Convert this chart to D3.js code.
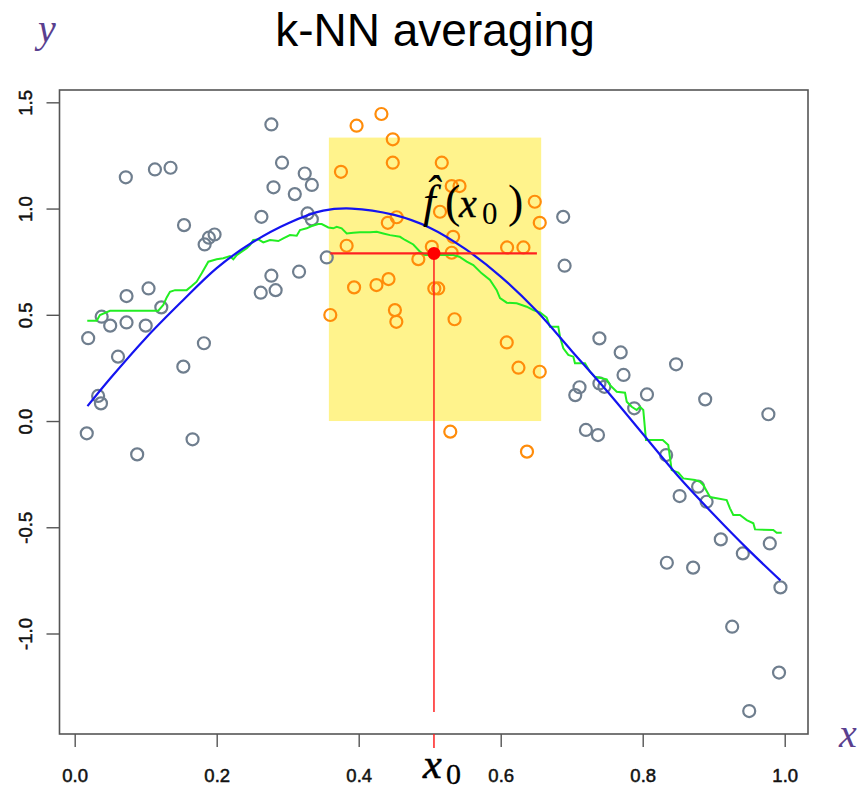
<!DOCTYPE html>
<html>
<head>
<meta charset="utf-8">
<script src="https://cdn.jsdelivr.net/npm/d3@7"></script>
<style>
  html, body { margin: 0; padding: 0; background: #fff; }
  svg { display: block; }
</style>
</head>
<body>
<div id="chart"></div>
<script>
// Data
// grey points = training points outside the neighbourhood of x0
const greyX = [0.072, 0.113, 0.135, 0.154, 0.263, 0.183, 0.189, 0.197, 0.262, 0.073, 0.104, 0.122, 0.038, 0.050, 0.073, 0.100, 0.019, 0.061, 0.182, 0.153, 0.033, 0.037, 0.017, 0.166, 0.088,
    0.277, 0.292, 0.324, 0.334, 0.280, 0.310, 0.328, 0.334, 0.355, 0.316, 0.277, 0.283,
    0.688, 0.690, 0.739, 0.769, 0.773, 0.711, 0.705, 0.739, 0.746, 0.788, 0.720, 0.737, 0.847, 0.806, 0.888, 0.977, 0.833, 0.852, 0.878, 0.890, 0.910, 0.941, 0.979, 0.834, 0.871, 0.994, 0.926, 0.992, 0.950];
const greyY = [1.147, 1.184, 1.192, 0.922, 0.961, 0.831, 0.863, 0.878, 0.604, 0.588, 0.624, 0.535, 0.491, 0.449, 0.464, 0.449, 0.390, 0.303, 0.366, 0.256, 0.118, 0.083, -0.058, -0.086, -0.157,
    1.396, 1.216, 1.165, 1.111, 1.100, 1.068, 0.977, 0.949, 0.770, 0.703, 0.684, 0.616,
    0.961, 0.731, 0.389, 0.323, 0.217, 0.159, 0.122, 0.177, 0.161, 0.060, -0.042, -0.066, 0.267, 0.125, 0.102, 0.032, -0.160, -0.353, -0.309, -0.380, -0.557, -0.623, -0.576, -0.667, -0.690, -0.783, -0.968, -1.184, -1.365];

// orange points = the k nearest neighbours of x0
const orangeX = [0.397, 0.432, 0.448, 0.448, 0.375, 0.517, 0.441, 0.4535, 0.383, 0.484, 0.503, 0.3935, 0.425, 0.442, 0.5065, 0.512, 0.360,
    0.451, 0.453, 0.529, 0.531, 0.542, 0.648, 0.655, 0.5145, 0.533, 0.531, 0.609, 0.632, 0.535, 0.6085, 0.625, 0.655, 0.637];
const orangeY = [1.390, 1.445, 1.326, 1.216, 1.173, 1.216, 0.933, 0.959, 0.825, 0.762, 0.820, 0.629, 0.640, 0.668, 0.624, 0.624, 0.499,
    0.522, 0.467, -0.050, 1.106, 1.106, 1.032, 0.933, 0.985, 0.867, 0.792, 0.817, 0.817, 0.479, 0.370, 0.251, 0.232, -0.144];

// green = k-NN average (traced)
const greenX = [0.0177, 0.031, 0.0356, 0.0497, 0.1177, 0.1248, 0.1296, 0.1342, 0.1413, 0.1577, 0.1648, 0.1718, 0.1789, 0.1882, 0.200, 0.2093, 0.2187, 0.2234, 0.2282, 0.2352,
    0.2423, 0.2469, 0.2515, 0.2586, 0.2656, 0.2751, 0.2868, 0.2938, 0.3032, 0.3127, 0.3173, 0.3268, 0.3338, 0.3431, 0.3479, 0.3572, 0.3642, 0.369, 0.376, 0.3831,
    0.3924, 0.4018, 0.4159, 0.4254, 0.4346, 0.4441, 0.4582, 0.4652, 0.4769, 0.4863, 0.4934, 0.5332, 0.5417, 0.5521, 0.5614, 0.5732, 0.5849, 0.5944, 0.599, 0.6085,
    0.6225, 0.6366, 0.6459, 0.6554, 0.6648, 0.6694, 0.6811, 0.6835, 0.6882, 0.6952, 0.7023, 0.7046, 0.7187, 0.7258, 0.7328, 0.7493, 0.754, 0.7634, 0.7751, 0.7775,
    0.7845, 0.7915, 0.7962, 0.8008, 0.8046, 0.8282, 0.836, 0.8408, 0.8501, 0.8572, 0.8737, 0.8807, 0.8853, 0.8948, 0.9183, 0.9229, 0.9276, 0.937, 0.9465, 0.9558,
    0.9582, 0.9839, 0.9887, 0.9958];
const greenY = [0.472, 0.472, 0.499, 0.519, 0.519, 0.546, 0.582, 0.608, 0.616, 0.616, 0.635, 0.656, 0.695, 0.750, 0.761, 0.766, 0.776, 0.761, 0.781, 0.797,
    0.813, 0.828, 0.852, 0.855, 0.841, 0.852, 0.847, 0.860, 0.875, 0.872, 0.899, 0.907, 0.918, 0.927, 0.927, 0.911, 0.907, 0.914, 0.907, 0.883,
    0.886, 0.889, 0.888, 0.891, 0.883, 0.875, 0.867, 0.852, 0.831, 0.797, 0.781, 0.781, 0.773, 0.750, 0.734, 0.695, 0.664, 0.616, 0.579, 0.557,
    0.554, 0.538, 0.522, 0.511, 0.487, 0.444, 0.444, 0.397, 0.342, 0.311, 0.303, 0.272, 0.272, 0.232, 0.208, 0.196, 0.169, 0.138, 0.133, 0.091,
    0.067, 0.052, 0.067, 0.052, -0.089, -0.089, -0.113, -0.231, -0.243, -0.270, -0.278, -0.286, -0.301, -0.358, -0.372, -0.411, -0.442, -0.442, -0.466, -0.481,
    -0.510, -0.513, -0.526, -0.526];

// blue = true curve (read at a few x positions)
const blueX = [0.018, 0.05, 0.10, 0.15, 0.20, 0.25, 0.30, 0.35, 0.39, 0.45, 0.50, 0.55, 0.60, 0.65, 0.70, 0.75, 0.80, 0.85, 0.90, 0.95, 0.994];
const blueY = [0.07, 0.20, 0.39, 0.56, 0.72, 0.84, 0.93, 0.99, 1.00, 0.97, 0.91, 0.81, 0.68, 0.52, 0.33, 0.14, -0.06, -0.26, -0.44, -0.61, -0.75];

// target point and neighbourhood
const x0 = 0.506;
const fx0 = 0.789;
const windowX = [0.358, 0.657];
const windowY = [0, 1.334];
const hLineX = [0.360, 0.651];
const vLineBottom = -1.369;

const xTicks = [0.0, 0.2, 0.4, 0.6, 0.8, 1.0];
const yTicks = [-1.0, -0.5, 0.0, 0.5, 1.0, 1.5];

// Set up dimensions
const W = 861, H = 790;
const box = { left: 59.5, right: 808, top: 90, bottom: 734 };

const svg = d3.select("#chart")
    .append("svg")
    .attr("width", W)
    .attr("height", H);

// Scales
const xScale = d3.scaleLinear().domain([-0.0214, 1.0328]).range([box.left, box.right]);
const yScale = d3.scaleLinear().domain([-1.473, 1.558]).range([box.bottom, box.top]);

// Yellow neighbourhood
svg.append("rect")
    .attr("x", xScale(windowX[0]))
    .attr("y", yScale(windowY[1]))
    .attr("width", xScale(windowX[1]) - xScale(windowX[0]))
    .attr("height", yScale(windowY[0]) - yScale(windowY[1]))
    .attr("fill", "#fff38c");

// Points
const pts = (xs, ys) => xs.map((x, i) => ({ x: x, y: ys[i] }));
svg.append("g")
    .selectAll("circle")
    .data(pts(greyX, greyY))
    .enter()
    .append("circle")
    .attr("cx", d => xScale(d.x))
    .attr("cy", d => yScale(d.y))
    .attr("r", 6)
    .attr("fill", "none")
    .attr("stroke", "#6f7e8e")
    .attr("stroke-width", 2.2);

svg.append("g")
    .selectAll("circle")
    .data(pts(orangeX, orangeY))
    .enter()
    .append("circle")
    .attr("cx", d => xScale(d.x))
    .attr("cy", d => yScale(d.y))
    .attr("r", 6)
    .attr("fill", "none")
    .attr("stroke", "#ff8c0a")
    .attr("stroke-width", 2.2);

// Lines
const line = d3.line().x(d => xScale(d.x)).y(d => yScale(d.y));

svg.append("path")
    .datum(pts(greenX, greenY))
    .attr("d", line)
    .attr("fill", "none")
    .attr("stroke", "#22ee22")
    .attr("stroke-width", 2);

svg.append("path")
    .datum(pts(blueX, blueY))
    .attr("d", line.curve(d3.curveCatmullRom))
    .attr("fill", "none")
    .attr("stroke", "#1414f0")
    .attr("stroke-width", 2.2);

// Red cross at x0
svg.append("line")
    .attr("x1", xScale(hLineX[0])).attr("x2", xScale(hLineX[1]))
    .attr("y1", yScale(fx0)).attr("y2", yScale(fx0))
    .attr("stroke", "#ff2020")
    .attr("stroke-width", 2.2);

svg.append("line")
    .attr("x1", xScale(x0)).attr("x2", xScale(x0))
    .attr("y1", yScale(fx0)).attr("y2", yScale(vLineBottom))
    .attr("stroke", "#ff2020")
    .attr("stroke-width", 1.5);

svg.append("circle")
    .attr("cx", xScale(x0))
    .attr("cy", yScale(fx0))
    .attr("r", 6.5)
    .attr("fill", "#ff0000");

// Box
svg.append("rect")
    .attr("x", box.left)
    .attr("y", box.top)
    .attr("width", box.right - box.left)
    .attr("height", box.bottom - box.top)
    .attr("fill", "none")
    .attr("stroke", "#555")
    .attr("stroke-width", 1.6);

// Axes
const tickFont = "'Liberation Sans', Arial, sans-serif";
const xAxis = svg.append("g")
    .attr("transform", `translate(0,${box.bottom})`)
    .call(d3.axisBottom(xScale).tickValues(xTicks).tickFormat(d => d.toFixed(1)).tickSize(13).tickPadding(22).tickSizeOuter(0));
xAxis.select(".domain").remove();
xAxis.selectAll("line").attr("stroke", "#555").attr("stroke-width", 1.4);
xAxis.selectAll("text")
    .style("font-family", tickFont)
    .style("font-size", "18.5px")
    .attr("fill", "#111")
    .attr("stroke", "#111")
    .attr("stroke-width", 0.5);

// red tick marking x0 on the axis
svg.append("line")
    .attr("x1", xScale(x0)).attr("x2", xScale(x0))
    .attr("y1", box.bottom).attr("y2", box.bottom + 14)
    .attr("stroke", "#ff2020")
    .attr("stroke-width", 1.5);

const yAxis = svg.append("g")
    .attr("transform", `translate(${box.left},0)`)
    .call(d3.axisLeft(yScale).tickValues(yTicks).tickFormat(d => d.toFixed(1)).tickSize(13).tickSizeOuter(0));
yAxis.select(".domain").remove();
yAxis.selectAll("line").attr("stroke", "#555").attr("stroke-width", 1.4);
yAxis.selectAll("text")
    .attr("transform", "rotate(-90)")
    .attr("x", 0)
    .attr("y", -28)
    .attr("dy", 0)
    .style("text-anchor", "middle")
    .style("font-family", tickFont)
    .style("font-size", "18.5px")
    .attr("fill", "#111")
    .attr("stroke", "#111")
    .attr("stroke-width", 0.5);

// Title
svg.append("text")
    .attr("x", 435)
    .attr("y", 46)
    .attr("text-anchor", "middle")
    .style("font-family", "'Liberation Sans', Arial, sans-serif")
    .style("font-size", "46px")
    .attr("fill", "#000")
    .text("k-NN averaging");

// Axis letters in purple
const serif = "'Liberation Serif', 'DejaVu Serif', serif";
svg.append("text")
    .attr("x", 47)
    .attr("y", 42)
    .attr("text-anchor", "middle")
    .style("font-family", serif)
    .style("font-style", "italic")
    .style("font-size", "40px")
    .attr("fill", "#5a3f8f")
    .text("y");

svg.append("text")
    .attr("x", 848)
    .attr("y", 747)
    .attr("text-anchor", "middle")
    .style("font-family", serif)
    .style("font-style", "italic")
    .style("font-size", "40px")
    .attr("fill", "#5a3f8f")
    .text("x");

// x0 label under the axis
const x0Label = svg.append("text")
    .attr("y", 778)
    .style("font-family", serif)
    .attr("fill", "#000")
    .attr("stroke", "#000")
    .attr("stroke-width", 0.6);
x0Label.append("tspan").attr("x", 423).style("font-style", "italic").style("font-size", "42px").text("x");
x0Label.append("tspan").attr("x", 446).attr("dy", 6).attr("stroke-width", 0.3).style("font-size", "30px").text("0");

// f-hat(x0) label, the hat is a combining circumflex on the f
const fLabel = svg.append("text")
    .attr("y", 217)
    .style("font-family", serif)
    .attr("fill", "#000");
fLabel.append("tspan").attr("x", 423).style("font-style", "italic").style("font-size", "46px").text("f\u0302");
fLabel.append("tspan").attr("x", 445).style("font-size", "46px").text("(");
fLabel.append("tspan").attr("x", 459).style("font-style", "italic").style("font-size", "40px")
    .attr("stroke", "#000").attr("stroke-width", 0.4).text("x");
fLabel.append("tspan").attr("x", 482).attr("dy", 7).style("font-size", "31px").text("0");
fLabel.append("tspan").attr("x", 508).attr("dy", -7).style("font-size", "46px").text(")");
</script>
</body>
</html>
